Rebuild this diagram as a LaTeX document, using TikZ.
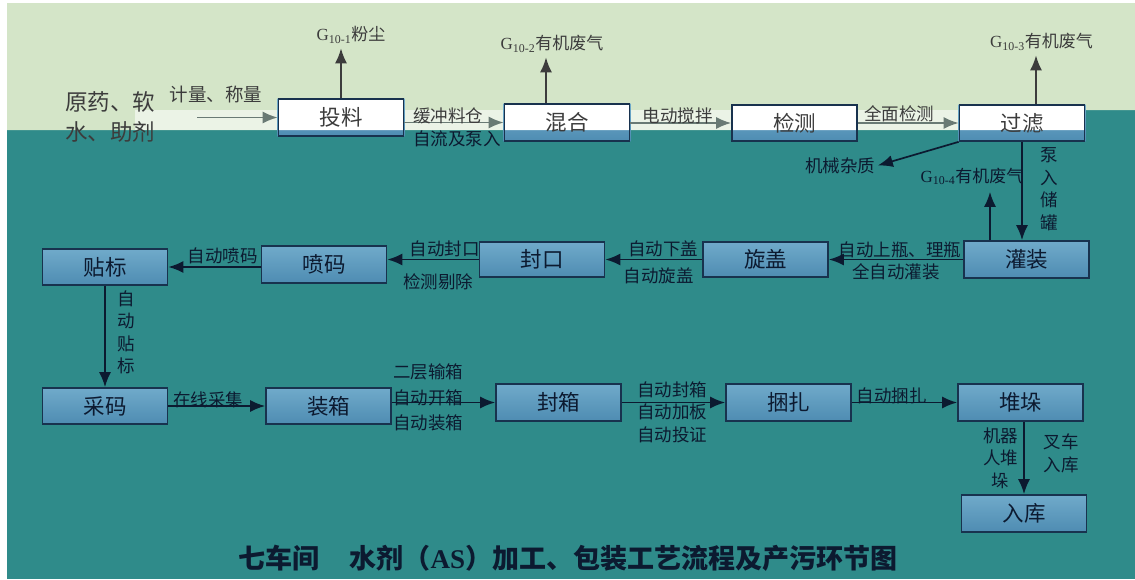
\documentclass[tikz,border=0pt]{standalone}
\usepackage{fontspec}
\setmainfont{Noto Sans CJK SC}
\newfontfamily\latinserif{Liberation Serif}
\usetikzlibrary{positioning,arrows.meta,backgrounds}
\definecolor{bandgreen}{RGB}{212,229,200}
\definecolor{seabg}{RGB}{47,139,138}
\definecolor{boxtop}{RGB}{112,170,202}
\definecolor{boxbot}{RGB}{78,140,178}
\definecolor{boxline}{RGB}{24,50,78}
\definecolor{ink}{RGB}{12,26,48}
\definecolor{bandink}{RGB}{60,60,60}
\definecolor{bandline}{RGB}{105,122,116}
\tikzset{every picture/.style={>={Latex[length=15pt,width=12pt]},line width=1.7pt}}
\tikzset{proc/.style={draw=boxline,top color=boxtop,bottom color=boxbot,minimum width=125pt,minimum height=36pt,inner sep=0pt,text=ink,font=\fontsize{21.5}{24}\selectfont}}
\tikzset{bandproc/.style={draw=boxline,minimum width=125pt,minimum height=36pt,inner sep=0pt,text=bandink,font=\fontsize{21.5}{24}\selectfont}}
\tikzset{lbl/.style={text=ink,inner sep=2pt,font=\fontsize{17.5}{22.5}\selectfont,align=center}}
\tikzset{bandlbl/.style={lbl,text=bandink}}
\tikzset{flow/.style={->,draw=ink}}
\tikzset{bandflow/.style={->,draw=bandline}}
\tikzset{gasflow/.style={->,draw=bandink}}
\newcommand{\gasname}[2]{{\latinserif G\textsubscript{#1}}#2}

\begin{document}
\begin{tikzpicture}[x=1pt,y=-1pt]
  \useasboundingbox (0,0) rectangle (1135,579);
  \begin{scope}[on background layer]
    \fill[white] (0,0) rectangle (1135,579);
    \fill[seabg] (7,3) rectangle (1135,579);
    \fill[bandgreen] (7,3) -- (1135,3) -- (1135,110) -- (1085,110) -- (1085,130) -- (7,130) -- cycle;
    \fill[white,opacity=.55] (135,110) rectangle (1085,130);
  \end{scope}

  % first row, in the light band
  \node[bandproc,minimum height=37pt] (tl) at (341,117.5) {投料};
  \node[bandproc,minimum height=37pt] (hh) at (567,122.5) {混合};
  \node[bandproc] (jc) at (794.5,123) {检测};
  \node[bandproc] (gl) at (1022,123) {过滤};
  \begin{scope}[on background layer]
    \foreach \n in {tl,hh,jc,gl}{
      \shade[top color=boxtop,bottom color=boxbot] (\n.south west) rectangle (\n.north east);
      \begin{scope}
        \clip (7,3) -- (1135,3) -- (1135,110) -- (1085,110) -- (1085,130) -- (7,130) -- cycle;
        \fill[white] (\n.south west) rectangle (\n.north east);
      \end{scope}
    }
  \end{scope}

  % second row
  \node[proc,minimum height=37pt] (gz) at (1026.5,259.5) {灌装};
  \node[proc,minimum height=35pt] (xg) at (765.5,259.5) {旋盖};
  \node[proc,minimum height=35pt] (fk) at (542,259.5) {封口};
  \node[proc,minimum height=37pt] (pm) at (324,264.5) {喷码};
  \node[proc] (tb) at (105,267) {贴标};

  % third row
  \node[proc] (cm) at (105,406) {采码};
  \node[proc] (zx) at (328.5,406) {装箱};
  \node[proc,minimum height=37pt] (fx) at (558.5,402.5) {封箱};
  \node[proc,minimum height=37pt] (kz) at (788.5,402.5) {捆扎};
  \node[proc,minimum height=37pt] (dd) at (1020.5,402.5) {堆垛};
  \node[proc,minimum height=37pt] (rk) at (1024,513.5) {入库};

  % raw materials
  \node[text=bandink,inner sep=0pt,align=left,font=\fontsize{22.5}{30.5}\selectfont] (yl) at (110,117) {原药、软\\水、助剂};
  \node[bandlbl,font=\fontsize{18.5}{22}\selectfont] (jl) at (216,94.5) {计量、称量};
  \coordinate (src) at (197,117.5);
  \draw[bandflow] (src) -- (tl.west);

  \draw[bandflow] (hh.west -| tl.east) -- node[bandlbl,above=-4pt,pos=.44] (l1) {缓冲料仓}
    node[lbl,below=5pt,pos=.53] (l2) {自流及泵入} (hh.west);
  \draw[bandflow] (jc.west -| hh.east) -- node[bandlbl,above=-4pt,pos=.47] (l3) {电动搅拌} (jc.west);
  \draw[bandflow] (gl.west -| jc.east) -- node[bandlbl,above=-2pt,pos=.41] (l4) {全面检测} (gl.west);

  % emissions
  \node[bandlbl,font=\fontsize{17}{20}\selectfont] (g1) at (351,35) {\gasname{10-1}{粉尘}};
  \node[bandlbl,font=\fontsize{17}{20}\selectfont] (g2) at (552,44) {\gasname{10-2}{有机废气}};
  \node[bandlbl,font=\fontsize{17}{20}\selectfont] (g3) at (1041.5,42) {\gasname{10-3}{有机废气}};
  \node[lbl,font=\fontsize{17}{20}\selectfont] (g4) at (972,176.5) {\gasname{10-4}{有机废气}};
  \coordinate (h2) at ([xshift=-21pt]hh.north);
  \coordinate (h3) at ([xshift=14pt]gl.north);
  \coordinate (h4) at ([xshift=-36.5pt]gz.north);
  \draw[gasflow] (tl.north) -- ([yshift=-2pt]tl.north |- g1.south);
  \draw[gasflow] (h2) -- ([yshift=-2pt]h2 |- g2.south);
  \draw[gasflow] (h3) -- ([yshift=-2pt]h3 |- g3.south);
  \draw[flow] (h4) -- ([yshift=-4pt]h4 |- g4.south);

  \node[lbl] (jz) at (840,165.5) {机械杂质};
  \draw[flow] (gl.south west) -- (jz.east);
  \draw[flow] (gl.south) -- node[lbl,right=16pt,yshift=2pt] (l5) {泵\\入\\储\\罐} (gl.south |- gz.north);

  % second row flow
  \draw[flow] (gz.west |- xg.east) -- node[lbl,above=-1.5pt,pos=.47] (l6) {自动上瓶、理瓶}
    node[lbl,below=1pt,pos=.5] (l7) {全自动灌装} (xg.east);
  \draw[flow] (xg.west) -- node[lbl,above=0pt,pos=.4] (l8) {自动下盖}
    node[lbl,below=5pt,pos=.45] (l9) {自动旋盖} (xg.west -| fk.east);
  \draw[flow] (fk.west) -- node[lbl,above=0pt,pos=.37] (l10) {自动封口}
    node[lbl,below=11pt,pos=.44] (l11) {检测剔除} (fk.west -| pm.east);
  \draw[flow] (tb.east -| pm.west) -- node[lbl,above=0pt,pos=.41] (l12) {自动喷码} (tb.east);
  \draw[flow] (tb.south) -- node[lbl,right=10pt,yshift=4pt] (l13) {自\\动\\贴\\标} (cm.north);

  % third row flow
  \draw[flow] (zx.west -| cm.east) -- node[lbl,above=-4.5pt,pos=.41] (l14) {在线采集} (zx.west);
  \draw[flow] (fx.west -| zx.east) -- node[lbl,pos=.35,yshift=5pt,font=\fontsize{17.5}{25.5}\selectfont] (l15) {二层输箱\\自动开箱\\自动装箱} (fx.west);
  \draw[flow] (fx.east) -- node[lbl,pos=.49,yshift=-9.5pt] (l16) {自动封箱\\自动加板\\自动投证} (kz.west);
  \draw[flow] (kz.east) -- node[lbl,above=-4pt,pos=.38] (l17) {自动捆扎} (dd.west);
  \draw[flow] (dd.south -| rk.north) -- node[lbl,left=3pt] (l18) {机器\\人堆\\垛}
    node[lbl,right=17pt,yshift=4.5pt] (l19) {叉车\\入库} (rk.north);

  \node[text=ink,font=\fontsize{27}{30}\selectfont\bfseries] (title) at (568,558)
    {七车间\hspace{30pt}水剂（{\latinserif\bfseries AS}）加工、包装工艺流程及产污环节图};
\end{tikzpicture}
\end{document}
